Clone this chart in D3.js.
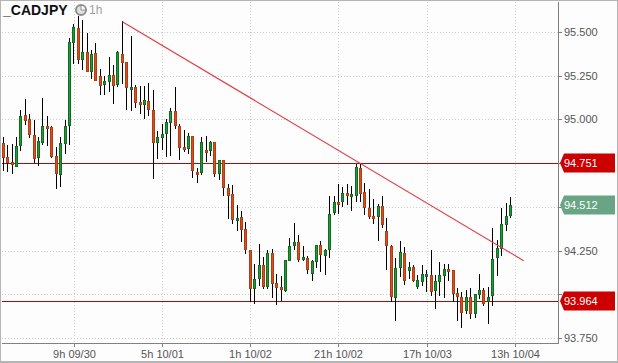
<!DOCTYPE html>
<html>
<head>
<meta charset="utf-8">
<script src="https://cdn.jsdelivr.net/npm/d3@7"></script>
<style>
  html, body { margin: 0; padding: 0; background: #fdfdfd; }
  svg { display: block; font-family: "Liberation Sans", Arial, sans-serif; }
  .axis text { font-size: 11px; fill: #555; }
  .axis line { stroke: #808080; }
</style>
</head>
<body>
<script>
var open = [94.866,94.786,94.757,94.734,94.854,95.026,95.003,94.911,94.786,94.871,94.963,94.957,94.791,94.689,94.866,94.968,
  95.443,95.523,95.346,95.386,95.277,95.380,95.249,95.203,95.220,95.254,95.203,95.374,95.329,95.174,95.186,95.100,
  95.089,95.106,95.054,94.871,94.900,94.923,94.986,95.049,94.963,94.843,94.837,94.906,94.700,94.700,94.826,94.826,
  94.871,94.695,94.769,94.609,94.574,94.426,94.443,94.374,94.254,94.037,94.094,94.169,94.049,94.237,94.066,94.043,
  94.026,94.197,94.283,94.300,94.203,94.209,94.123,94.191,94.283,94.226,94.260,94.471,94.529,94.534,94.580,94.563,
  94.569,94.723,94.586,94.494,94.449,94.449,94.506,94.363,94.277,93.986,94.157,94.237,94.140,94.157,94.049,94.077,
  94.106,94.111,94.026,94.077,94.111,94.146,94.140,94.009,93.986,93.912,93.986,93.894,94.003,94.026,93.963,93.997,
  94.214,94.266,94.403,94.454];
var high = [94.900,94.854,94.860,94.900,95.054,95.117,95.031,94.997,94.900,95.123,95.020,94.963,94.843,94.900,94.997,95.466,
  95.546,95.592,95.569,95.495,95.397,95.437,95.289,95.249,95.357,95.311,95.391,95.563,95.329,95.477,95.197,95.191,
  95.191,95.209,95.169,94.934,94.974,95.003,95.066,95.186,94.974,94.940,94.923,94.906,94.723,94.900,94.906,94.877,
  94.871,94.769,94.769,94.631,94.626,94.511,94.477,94.415,94.254,94.174,94.289,94.214,94.254,94.260,94.117,94.106,
  94.197,94.323,94.409,94.340,94.277,94.220,94.197,94.283,94.306,94.260,94.563,94.563,94.631,94.614,94.631,94.620,
  94.746,94.746,94.637,94.603,94.546,94.517,94.563,94.437,94.283,94.209,94.306,94.271,94.186,94.169,94.111,94.169,
  94.140,94.254,94.111,94.186,94.174,94.174,94.140,94.037,94.014,94.026,94.037,94.003,94.117,94.037,94.043,94.380,
  94.312,94.494,94.523,94.557];
var low = [94.712,94.706,94.695,94.734,94.826,94.974,94.900,94.757,94.740,94.860,94.854,94.786,94.609,94.620,94.809,94.860,
  95.323,95.323,95.289,95.277,95.237,95.226,95.146,95.146,95.163,95.094,95.191,95.209,95.060,95.054,95.071,95.037,
  95.009,95.026,94.666,94.780,94.831,94.791,94.797,94.951,94.774,94.820,94.809,94.672,94.643,94.689,94.763,94.797,
  94.677,94.660,94.569,94.437,94.409,94.369,94.306,94.237,93.963,93.952,94.054,94.037,94.037,93.986,93.946,93.969,
  94.020,94.197,94.260,94.191,94.197,94.123,94.083,94.157,94.134,94.117,94.214,94.460,94.466,94.506,94.517,94.483,
  94.534,94.534,94.460,94.437,94.409,94.312,94.386,94.146,93.963,93.854,94.106,94.060,94.094,94.077,94.037,94.054,
  94.020,93.997,93.923,93.997,93.986,94.083,93.963,93.854,93.814,93.894,93.866,93.872,93.980,93.940,93.837,93.940,
  94.111,94.226,94.369,94.443];
var close = [94.786,94.757,94.746,94.849,95.020,94.997,94.917,94.780,94.877,94.963,94.951,94.791,94.695,94.866,94.963,95.443,
  95.529,95.346,95.386,95.277,95.374,95.226,95.197,95.220,95.254,95.197,95.386,95.329,95.186,95.186,95.100,95.089,
  95.112,95.060,94.871,94.900,94.917,94.986,95.049,94.968,94.843,94.831,94.906,94.712,94.689,94.871,94.814,94.871,
  94.695,94.769,94.614,94.569,94.431,94.437,94.374,94.260,94.037,94.089,94.169,94.049,94.237,94.066,94.043,94.031,
  94.197,94.277,94.300,94.203,94.214,94.146,94.191,94.283,94.231,94.254,94.460,94.529,94.517,94.580,94.569,94.574,
  94.729,94.580,94.500,94.449,94.437,94.506,94.403,94.283,93.992,94.151,94.243,94.083,94.157,94.083,94.083,94.117,
  94.117,94.020,94.077,94.111,94.146,94.134,94.009,93.992,93.900,93.986,93.894,94.003,94.026,93.952,93.986,94.203,
  94.266,94.403,94.449,94.512];

var yTicks = [95.5, 95.25, 95, 94.75, 94.5, 94.25, 94, 93.75];
var yHidden = [94.75, 94.5, 94];          // sit under the price badges
var xTicks = [16, 36, 56, 76, 96, 116];
var xLabels = ['9h 09/30', '5h 10/01', '1h 10/02', '21h 10/02', '17h 10/03', '13h 10/04'];

var levels = [94.751, 93.964];
var trendIdx = [27, 118];
var trendPrice = [95.559, 94.193];
var lastPrice = 94.512;

var width = 618, height = 363;
var plot = {left: 2, right: 558, bottom: 343};

var x = d3.scaleLinear().domain([0, 115]).range([3.3, 510.45]);
var y = d3.scaleLinear().domain([95.5, 93.75]).range([32, 338.2]);
var xRound = x.copy().interpolate(d3.interpolateRound);
var yRound = y.copy().interpolate(d3.interpolateRound);

var svg = d3.select('body').append('svg')
  .attr('width', width)
  .attr('height', height);

svg.append('rect')
  .attr('width', width)
  .attr('height', height)
  .attr('fill', '#fdfdfd');

// dotted grid
svg.append('g').selectAll('line')
  .data(yTicks)
  .enter().append('line')
  .attr('x1', plot.left).attr('x2', plot.right)
  .attr('y1', d => yRound(d) + 0.5).attr('y2', d => yRound(d) + 0.5)
  .attr('stroke', '#c8cfc8')
  .attr('stroke-dasharray', '1,2');

svg.append('g').selectAll('line')
  .data(xTicks)
  .enter().append('line')
  .attr('x1', d => xRound(d) + 0.5).attr('x2', d => xRound(d) + 0.5)
  .attr('y1', 2).attr('y2', plot.bottom)
  .attr('stroke', '#c8d6c8')
  .attr('stroke-dasharray', '1,2');

// support / resistance levels
svg.append('g').selectAll('line')
  .data(levels)
  .enter().append('line')
  .attr('x1', plot.left).attr('x2', plot.right)
  .attr('y1', d => yRound(d) + 0.5).attr('y2', d => yRound(d) + 0.5)
  .attr('stroke', '#aa0a0a');

// candles
var candles = svg.append('g').selectAll('g')
  .data(open.map((d, i) => i))
  .enter().append('g')
  .attr('transform', i => `translate(${Math.floor(x(i))},0)`);

candles.append('line')
  .attr('x1', 0.5).attr('x2', 0.5)
  .attr('y1', i => yRound(high[i]))
  .attr('y2', i => yRound(low[i]) + 1)
  .attr('stroke', '#000');

candles.append('rect')
  .attr('x', -0.5)
  .attr('width', 2)
  .attr('y', i => yRound(Math.max(open[i], close[i])) + 0.5)
  .attr('height', i => Math.max(1, yRound(Math.min(open[i], close[i])) - yRound(Math.max(open[i], close[i]))))
  .attr('fill', i => close[i] >= open[i] ? '#2f9048' : '#cf5424')
  .attr('stroke', i => close[i] >= open[i] ? '#0a7019' : '#b53a10');

// trend line
svg.append('line')
  .attr('x1', x(trendIdx[0])).attr('y1', y(trendPrice[0]))
  .attr('x2', x(trendIdx[1])).attr('y2', y(trendPrice[1]))
  .attr('stroke', '#e23c42')
  .attr('stroke-width', 1.1);

// axes
var yAxis = d3.axisRight(yRound)
  .tickValues(yTicks)
  .tickSize(4)
  .tickPadding(2)
  .tickFormat(d => yHidden.includes(d) ? '' : d3.format('.3f')(d));

svg.append('g')
  .attr('class', 'axis')
  .attr('transform', `translate(${plot.right},0)`)
  .call(yAxis)
  .call(g => g.select('.domain').remove());

var xAxis = d3.axisBottom(xRound)
  .tickValues(xTicks)
  .tickSize(4)
  .tickPadding(3)
  .tickFormat((d, i) => xLabels[i]);

svg.append('g')
  .attr('class', 'axis')
  .attr('transform', `translate(0,${plot.bottom})`)
  .call(xAxis)
  .call(g => g.select('.domain').remove());

svg.append('line')
  .attr('x1', plot.right + 0.5).attr('x2', plot.right + 0.5)
  .attr('y1', 2).attr('y2', plot.bottom + 1)
  .attr('stroke', '#808080');

svg.append('line')
  .attr('x1', plot.left).attr('x2', plot.right + 1)
  .attr('y1', plot.bottom + 0.5).attr('y2', plot.bottom + 0.5)
  .attr('stroke', '#808080');

// price badges
var badges = svg.append('g').selectAll('g')
  .data(levels.concat([lastPrice]))
  .enter().append('g')
  .attr('transform', d => `translate(559,${yRound(d)})`);

badges.append('path')
  .attr('d', 'M1,0 L5,-9.5 L56,-9.5 L56,9.5 L5,9.5 Z')
  .attr('fill', d => d === lastPrice ? '#69a585' : '#cc0000');

badges.append('text')
  .attr('x', 5)
  .attr('y', 4)
  .attr('font-size', 11)
  .attr('fill', '#fff')
  .text(d => d3.format('.3f')(d));

// title and timeframe
svg.append('text')
  .attr('x', 3)
  .attr('y', 14.5)
  .attr('font-size', 14)
  .attr('font-weight', 'bold')
  .attr('fill', '#111')
  .text('_CADJPY');

var clock = svg.append('g').attr('transform', 'translate(81,10)');
clock.append('circle')
  .attr('r', 5)
  .attr('fill', '#e0e0e0')
  .attr('stroke', '#8f8f8f')
  .attr('stroke-width', 2);
clock.append('path')
  .attr('d', 'M0,0 L0,-4 A4,4 0 0,1 4,0 Z')
  .attr('fill', '#fdfdfd');
clock.append('path')
  .attr('d', 'M0,-4 L0,0 L4,0')
  .attr('fill', 'none')
  .attr('stroke', '#8f8f8f');

svg.append('text')
  .attr('x', 89)
  .attr('y', 13.5)
  .attr('font-size', 12)
  .attr('fill', '#a0a0a0')
  .text('1h');

// frame
svg.append('rect')
  .attr('width', width)
  .attr('height', height - 1)
  .attr('fill', 'none')
  .attr('stroke', '#b4b4b4')
  .attr('stroke-width', 2);
</script>
</body>
</html>
